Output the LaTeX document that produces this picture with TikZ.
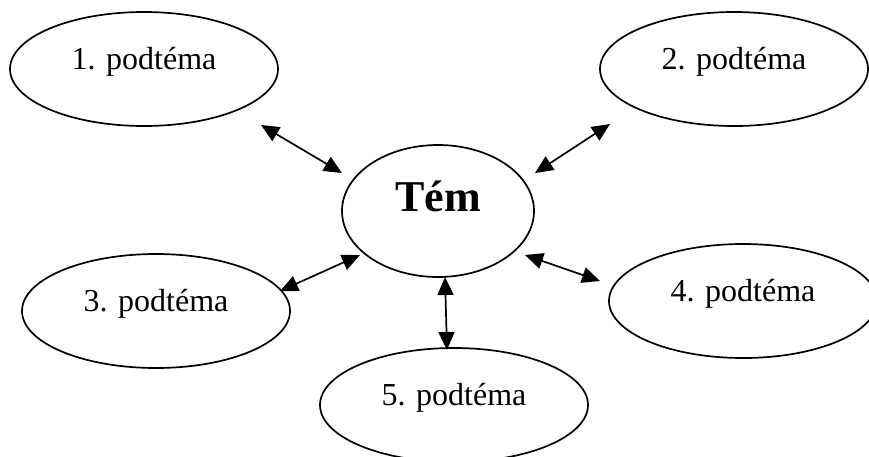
\documentclass[tikz,border=0pt]{standalone}
\usepackage{fontspec}
\setmainfont{Liberation Serif}
\usetikzlibrary{shapes.geometric,arrows.meta}
\tikzset{
  topic/.style={ellipse, draw, line width=1.7pt, inner sep=0pt,
    minimum width=268pt, minimum height=114pt,
    text height=0pt, text depth=0pt, font=\fontsize{32}{32}\selectfont},
  maintopic/.style={topic, minimum width=192pt, minimum height=132pt,
    font=\fontsize{44}{44}\selectfont\bfseries},
  link/.style={line width=1.7pt, {Triangle[length=18pt,width=16pt]}-{Triangle[length=18pt,width=16pt]}}
}
\begin{document}
\begin{tikzpicture}[x=1pt,y=-1pt]
\useasboundingbox (0,0) rectangle (869,456);
\clip (0,0) rectangle (869,456);
\node[maintopic] (tem) at (438,211) {Tém};
\node[topic] (s1) at (144,69) {1. podtéma};
\node[topic] (s2) at (734,69) {2. podtéma};
\node[topic] (s3) at (156,311) {3. podtéma};
\node[topic] (s4) at (743,301) {4. podtéma};
\node[topic] (s5) at (454,405) {5. podtéma};
\coordinate (a1) at (261,125); \coordinate (b1) at (342,173);
\coordinate (a2) at (610,124); \coordinate (b2) at (535,173);
\coordinate (a3) at (280,291); \coordinate (b3) at (360,255);
\coordinate (a4) at (600,281); \coordinate (b4) at (525,255);
\coordinate (a5) at (447,350); \coordinate (b5) at (445,277);
\draw[link] (a1) -- (b1);
\draw[link] (a2) -- (b2);
\draw[link] (a3) -- (b3);
\draw[link] (a4) -- (b4);
\draw[link] (a5) -- (b5);
\end{tikzpicture}
\end{document}
